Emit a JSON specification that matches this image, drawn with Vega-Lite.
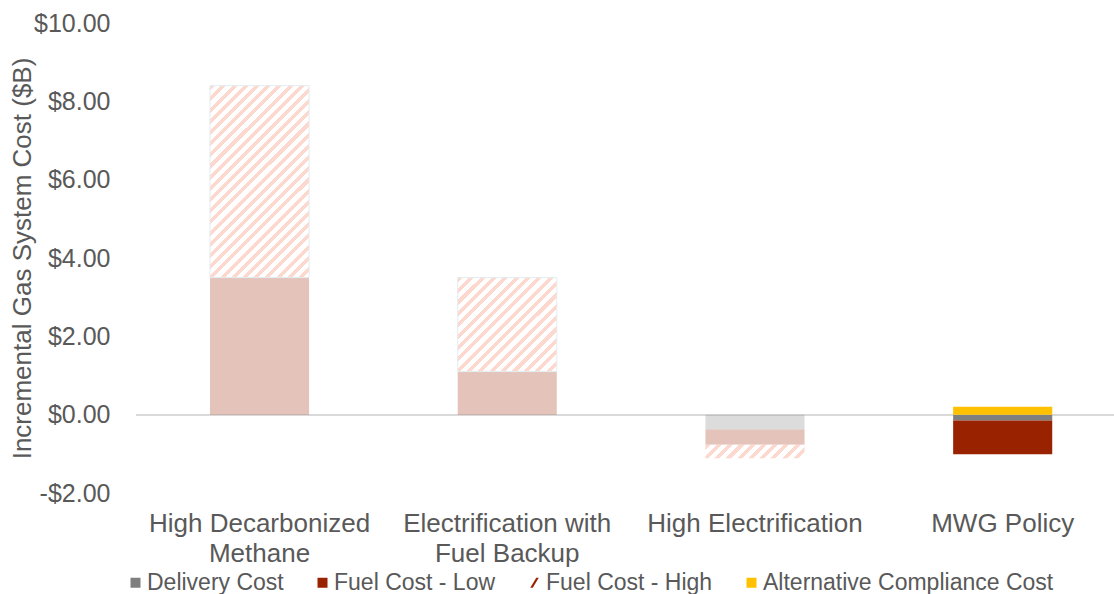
{
  "$schema": "https://vega.github.io/schema/vega-lite/v6.json",
  "width": 978,
  "height": 470,
  "autosize": {"type": "none"},
  "padding": {"left": 136, "top": 23, "right": 0, "bottom": 101},
  "background": "#ffffff",
  "config": {
    "view": {"stroke": null},
    "font": "Liberation Sans",
    "axis": {"labelFont": "Liberation Sans", "titleFont": "Liberation Sans", "labelColor": "#595959", "titleColor": "#595959"},
    "legend": {"labelFont": "Liberation Sans"}
  },
  "data": {
    "values": [
      {"scenario": "High Decarbonized Methane", "cost": "Fuel Cost - Low", "value": 3.5},
      {"scenario": "High Decarbonized Methane", "cost": "Fuel Cost - High", "value": 4.9},
      {"scenario": "Electrification with Fuel Backup", "cost": "Fuel Cost - Low", "value": 1.1},
      {"scenario": "Electrification with Fuel Backup", "cost": "Fuel Cost - High", "value": 2.4},
      {"scenario": "High Electrification", "cost": "Delivery Cost", "value": -0.38},
      {"scenario": "High Electrification", "cost": "Fuel Cost - Low", "value": -0.39},
      {"scenario": "High Electrification", "cost": "Fuel Cost - High", "value": -0.34},
      {"scenario": "MWG Policy", "cost": "Delivery Cost", "value": -0.15},
      {"scenario": "MWG Policy", "cost": "Fuel Cost - Low", "value": -0.86},
      {"scenario": "MWG Policy", "cost": "Alternative Compliance Cost", "value": 0.2}
    ]
  },
  "transform": [
    {"stack": "value", "groupby": ["scenario"], "as": ["y0", "y1"]}
  ],
  "encoding": {
    "x": {
      "field": "scenario",
      "type": "nominal",
      "sort": ["High Decarbonized Methane", "Electrification with Fuel Backup", "High Electrification", "MWG Policy"],
      "scale": {"paddingInner": 0.6, "paddingOuter": 0.274, "align": 0.545},
      "axis": {
        "title": null,
        "domain": false,
        "ticks": false,
        "labelAngle": 0,
        "labelFontSize": 26,
        "labelPadding": 17,
        "labelLineHeight": 30,
        "labelLimit": 0,
        "labelOverlap": false,
        "labelExpr": "datum.label == 'High Decarbonized Methane' ? ['High Decarbonized', 'Methane'] : datum.label == 'Electrification with Fuel Backup' ? ['Electrification with', 'Fuel Backup'] : datum.label"
      }
    }
  },
  "layer": [
    {
      "mark": {"type": "rule", "color": "#d9d9d9", "strokeWidth": 1.5},
      "encoding": {"x": null, "y": {"datum": 0, "type": "quantitative"}}
    },
    {
      "transform": [{"filter": "datum.cost !== 'Fuel Cost - High'"}],
      "mark": {"type": "bar"},
      "encoding": {
        "y": {
          "field": "y0",
          "type": "quantitative",
          "scale": {"domain": [-2, 10], "nice": false, "zero": false},
          "axis": {
            "title": "Incremental Gas System Cost ($B)",
            "titleFontSize": 26,
            "titleFontWeight": "normal",
            "titleX": -114,
            "titleY": 235,
            "titleAngle": -90,
            "titleBaseline": "middle",
            "titleAlign": "center",
            "domain": false,
            "ticks": false,
            "grid": false,
            "values": [-2, 0, 2, 4, 6, 8, 10],
            "labelFontSize": 25,
            "labelPadding": 26,
            "labelExpr": "(datum.value < 0 ? '-' : '') + '$' + format(abs(datum.value), '.2f')"
          }
        },
        "y2": {"field": "y1"},
        "fill": {
          "field": "cost",
          "type": "nominal",
          "scale": {"domain": ["Delivery Cost", "Fuel Cost - Low", "Alternative Compliance Cost"], "range": ["#7f7f7f", "#992200", "#ffc000"]},
          "legend": null
        },
        "opacity": {"condition": {"test": "datum.scenario === 'MWG Policy'", "value": 1}, "value": 0.27}
      }
    },
    {
      "transform": [{"filter": "datum.scenario === 'High Decarbonized Methane' && datum.cost === 'Fuel Cost - High'"}],
      "mark": {
        "type": "bar",
        "stroke": "#e3ecf1",
        "strokeWidth": 1,
        "fill": {
          "gradient": "linear", "x1": 0, "y1": 0, "x2": 0.6177, "y2": 1.1973,
          "stops": [
            {"offset": 0, "color": "#fdd8ce"}, {"offset": 0.0173, "color": "#fdd8ce"}, {"offset": 0.0173, "color": "#ffffff"}, {"offset": 0.0385, "color": "#ffffff"},
            {"offset": 0.0385, "color": "#fdd8ce"}, {"offset": 0.0558, "color": "#fdd8ce"}, {"offset": 0.0558, "color": "#ffffff"}, {"offset": 0.0769, "color": "#ffffff"},
            {"offset": 0.0769, "color": "#fdd8ce"}, {"offset": 0.0942, "color": "#fdd8ce"}, {"offset": 0.0942, "color": "#ffffff"}, {"offset": 0.1154, "color": "#ffffff"},
            {"offset": 0.1154, "color": "#fdd8ce"}, {"offset": 0.1327, "color": "#fdd8ce"}, {"offset": 0.1327, "color": "#ffffff"}, {"offset": 0.1538, "color": "#ffffff"},
            {"offset": 0.1538, "color": "#fdd8ce"}, {"offset": 0.1712, "color": "#fdd8ce"}, {"offset": 0.1712, "color": "#ffffff"}, {"offset": 0.1923, "color": "#ffffff"},
            {"offset": 0.1923, "color": "#fdd8ce"}, {"offset": 0.2096, "color": "#fdd8ce"}, {"offset": 0.2096, "color": "#ffffff"}, {"offset": 0.2308, "color": "#ffffff"},
            {"offset": 0.2308, "color": "#fdd8ce"}, {"offset": 0.2481, "color": "#fdd8ce"}, {"offset": 0.2481, "color": "#ffffff"}, {"offset": 0.2692, "color": "#ffffff"},
            {"offset": 0.2692, "color": "#fdd8ce"}, {"offset": 0.2865, "color": "#fdd8ce"}, {"offset": 0.2865, "color": "#ffffff"}, {"offset": 0.3077, "color": "#ffffff"},
            {"offset": 0.3077, "color": "#fdd8ce"}, {"offset": 0.325, "color": "#fdd8ce"}, {"offset": 0.325, "color": "#ffffff"}, {"offset": 0.3462, "color": "#ffffff"},
            {"offset": 0.3462, "color": "#fdd8ce"}, {"offset": 0.3635, "color": "#fdd8ce"}, {"offset": 0.3635, "color": "#ffffff"}, {"offset": 0.3846, "color": "#ffffff"},
            {"offset": 0.3846, "color": "#fdd8ce"}, {"offset": 0.4019, "color": "#fdd8ce"}, {"offset": 0.4019, "color": "#ffffff"}, {"offset": 0.4231, "color": "#ffffff"},
            {"offset": 0.4231, "color": "#fdd8ce"}, {"offset": 0.4404, "color": "#fdd8ce"}, {"offset": 0.4404, "color": "#ffffff"}, {"offset": 0.4615, "color": "#ffffff"},
            {"offset": 0.4615, "color": "#fdd8ce"}, {"offset": 0.4788, "color": "#fdd8ce"}, {"offset": 0.4788, "color": "#ffffff"}, {"offset": 0.5, "color": "#ffffff"},
            {"offset": 0.5, "color": "#fdd8ce"}, {"offset": 0.5173, "color": "#fdd8ce"}, {"offset": 0.5173, "color": "#ffffff"}, {"offset": 0.5385, "color": "#ffffff"},
            {"offset": 0.5385, "color": "#fdd8ce"}, {"offset": 0.5558, "color": "#fdd8ce"}, {"offset": 0.5558, "color": "#ffffff"}, {"offset": 0.5769, "color": "#ffffff"},
            {"offset": 0.5769, "color": "#fdd8ce"}, {"offset": 0.5942, "color": "#fdd8ce"}, {"offset": 0.5942, "color": "#ffffff"}, {"offset": 0.6154, "color": "#ffffff"},
            {"offset": 0.6154, "color": "#fdd8ce"}, {"offset": 0.6327, "color": "#fdd8ce"}, {"offset": 0.6327, "color": "#ffffff"}, {"offset": 0.6538, "color": "#ffffff"},
            {"offset": 0.6538, "color": "#fdd8ce"}, {"offset": 0.6712, "color": "#fdd8ce"}, {"offset": 0.6712, "color": "#ffffff"}, {"offset": 0.6923, "color": "#ffffff"},
            {"offset": 0.6923, "color": "#fdd8ce"}, {"offset": 0.7096, "color": "#fdd8ce"}, {"offset": 0.7096, "color": "#ffffff"}, {"offset": 0.7308, "color": "#ffffff"},
            {"offset": 0.7308, "color": "#fdd8ce"}, {"offset": 0.7481, "color": "#fdd8ce"}, {"offset": 0.7481, "color": "#ffffff"}, {"offset": 0.7692, "color": "#ffffff"},
            {"offset": 0.7692, "color": "#fdd8ce"}, {"offset": 0.7865, "color": "#fdd8ce"}, {"offset": 0.7865, "color": "#ffffff"}, {"offset": 0.8077, "color": "#ffffff"},
            {"offset": 0.8077, "color": "#fdd8ce"}, {"offset": 0.825, "color": "#fdd8ce"}, {"offset": 0.825, "color": "#ffffff"}, {"offset": 0.8462, "color": "#ffffff"},
            {"offset": 0.8462, "color": "#fdd8ce"}, {"offset": 0.8635, "color": "#fdd8ce"}, {"offset": 0.8635, "color": "#ffffff"}, {"offset": 0.8846, "color": "#ffffff"},
            {"offset": 0.8846, "color": "#fdd8ce"}, {"offset": 0.9019, "color": "#fdd8ce"}, {"offset": 0.9019, "color": "#ffffff"}, {"offset": 0.9231, "color": "#ffffff"},
            {"offset": 0.9231, "color": "#fdd8ce"}, {"offset": 0.9404, "color": "#fdd8ce"}, {"offset": 0.9404, "color": "#ffffff"}, {"offset": 0.9615, "color": "#ffffff"},
            {"offset": 0.9615, "color": "#fdd8ce"}, {"offset": 0.9788, "color": "#fdd8ce"}, {"offset": 0.9788, "color": "#ffffff"}, {"offset": 1, "color": "#ffffff"}
          ]
        }
      },
      "encoding": {"y": {"field": "y0", "type": "quantitative"}, "y2": {"field": "y1"}}
    },
    {
      "transform": [{"filter": "datum.scenario === 'Electrification with Fuel Backup' && datum.cost === 'Fuel Cost - High'"}],
      "mark": {
        "type": "bar",
        "stroke": "#e3ecf1",
        "strokeWidth": 1,
        "fill": {
          "gradient": "linear", "x1": 0, "y1": 0, "x2": 1.0252, "y2": 0.9735,
          "stops": [
            {"offset": 0, "color": "#fdd8ce"}, {"offset": 0.0265, "color": "#fdd8ce"}, {"offset": 0.0265, "color": "#ffffff"}, {"offset": 0.0588, "color": "#ffffff"},
            {"offset": 0.0588, "color": "#fdd8ce"}, {"offset": 0.0853, "color": "#fdd8ce"}, {"offset": 0.0853, "color": "#ffffff"}, {"offset": 0.1176, "color": "#ffffff"},
            {"offset": 0.1176, "color": "#fdd8ce"}, {"offset": 0.1441, "color": "#fdd8ce"}, {"offset": 0.1441, "color": "#ffffff"}, {"offset": 0.1765, "color": "#ffffff"},
            {"offset": 0.1765, "color": "#fdd8ce"}, {"offset": 0.2029, "color": "#fdd8ce"}, {"offset": 0.2029, "color": "#ffffff"}, {"offset": 0.2353, "color": "#ffffff"},
            {"offset": 0.2353, "color": "#fdd8ce"}, {"offset": 0.2618, "color": "#fdd8ce"}, {"offset": 0.2618, "color": "#ffffff"}, {"offset": 0.2941, "color": "#ffffff"},
            {"offset": 0.2941, "color": "#fdd8ce"}, {"offset": 0.3206, "color": "#fdd8ce"}, {"offset": 0.3206, "color": "#ffffff"}, {"offset": 0.3529, "color": "#ffffff"},
            {"offset": 0.3529, "color": "#fdd8ce"}, {"offset": 0.3794, "color": "#fdd8ce"}, {"offset": 0.3794, "color": "#ffffff"}, {"offset": 0.4118, "color": "#ffffff"},
            {"offset": 0.4118, "color": "#fdd8ce"}, {"offset": 0.4382, "color": "#fdd8ce"}, {"offset": 0.4382, "color": "#ffffff"}, {"offset": 0.4706, "color": "#ffffff"},
            {"offset": 0.4706, "color": "#fdd8ce"}, {"offset": 0.4971, "color": "#fdd8ce"}, {"offset": 0.4971, "color": "#ffffff"}, {"offset": 0.5294, "color": "#ffffff"},
            {"offset": 0.5294, "color": "#fdd8ce"}, {"offset": 0.5559, "color": "#fdd8ce"}, {"offset": 0.5559, "color": "#ffffff"}, {"offset": 0.5882, "color": "#ffffff"},
            {"offset": 0.5882, "color": "#fdd8ce"}, {"offset": 0.6147, "color": "#fdd8ce"}, {"offset": 0.6147, "color": "#ffffff"}, {"offset": 0.6471, "color": "#ffffff"},
            {"offset": 0.6471, "color": "#fdd8ce"}, {"offset": 0.6735, "color": "#fdd8ce"}, {"offset": 0.6735, "color": "#ffffff"}, {"offset": 0.7059, "color": "#ffffff"},
            {"offset": 0.7059, "color": "#fdd8ce"}, {"offset": 0.7324, "color": "#fdd8ce"}, {"offset": 0.7324, "color": "#ffffff"}, {"offset": 0.7647, "color": "#ffffff"},
            {"offset": 0.7647, "color": "#fdd8ce"}, {"offset": 0.7912, "color": "#fdd8ce"}, {"offset": 0.7912, "color": "#ffffff"}, {"offset": 0.8235, "color": "#ffffff"},
            {"offset": 0.8235, "color": "#fdd8ce"}, {"offset": 0.85, "color": "#fdd8ce"}, {"offset": 0.85, "color": "#ffffff"}, {"offset": 0.8824, "color": "#ffffff"},
            {"offset": 0.8824, "color": "#fdd8ce"}, {"offset": 0.9088, "color": "#fdd8ce"}, {"offset": 0.9088, "color": "#ffffff"}, {"offset": 0.9412, "color": "#ffffff"},
            {"offset": 0.9412, "color": "#fdd8ce"}, {"offset": 0.9676, "color": "#fdd8ce"}, {"offset": 0.9676, "color": "#ffffff"}, {"offset": 1, "color": "#ffffff"}
          ]
        }
      },
      "encoding": {"y": {"field": "y0", "type": "quantitative"}, "y2": {"field": "y1"}}
    },
    {
      "transform": [{"filter": "datum.scenario === 'High Electrification' && datum.cost === 'Fuel Cost - High'"}],
      "mark": {
        "type": "bar",
        "fill": {
          "gradient": "linear", "x1": 0, "y1": 0, "x2": 1.1142, "y2": 0.1497,
          "stops": [
            {"offset": 0, "color": "#fdd8ce"}, {"offset": 0.045, "color": "#fdd8ce"}, {"offset": 0.045, "color": "#ffffff"}, {"offset": 0.1, "color": "#ffffff"},
            {"offset": 0.1, "color": "#fdd8ce"}, {"offset": 0.145, "color": "#fdd8ce"}, {"offset": 0.145, "color": "#ffffff"}, {"offset": 0.2, "color": "#ffffff"},
            {"offset": 0.2, "color": "#fdd8ce"}, {"offset": 0.245, "color": "#fdd8ce"}, {"offset": 0.245, "color": "#ffffff"}, {"offset": 0.3, "color": "#ffffff"},
            {"offset": 0.3, "color": "#fdd8ce"}, {"offset": 0.345, "color": "#fdd8ce"}, {"offset": 0.345, "color": "#ffffff"}, {"offset": 0.4, "color": "#ffffff"},
            {"offset": 0.4, "color": "#fdd8ce"}, {"offset": 0.445, "color": "#fdd8ce"}, {"offset": 0.445, "color": "#ffffff"}, {"offset": 0.5, "color": "#ffffff"},
            {"offset": 0.5, "color": "#fdd8ce"}, {"offset": 0.545, "color": "#fdd8ce"}, {"offset": 0.545, "color": "#ffffff"}, {"offset": 0.6, "color": "#ffffff"},
            {"offset": 0.6, "color": "#fdd8ce"}, {"offset": 0.645, "color": "#fdd8ce"}, {"offset": 0.645, "color": "#ffffff"}, {"offset": 0.7, "color": "#ffffff"},
            {"offset": 0.7, "color": "#fdd8ce"}, {"offset": 0.745, "color": "#fdd8ce"}, {"offset": 0.745, "color": "#ffffff"}, {"offset": 0.8, "color": "#ffffff"},
            {"offset": 0.8, "color": "#fdd8ce"}, {"offset": 0.845, "color": "#fdd8ce"}, {"offset": 0.845, "color": "#ffffff"}, {"offset": 0.9, "color": "#ffffff"},
            {"offset": 0.9, "color": "#fdd8ce"}, {"offset": 0.945, "color": "#fdd8ce"}, {"offset": 0.945, "color": "#ffffff"}, {"offset": 1, "color": "#ffffff"}
          ]
        }
      },
      "encoding": {"y": {"field": "y0", "type": "quantitative"}, "y2": {"field": "y1"}}
    },
    {
      "data": {"values": [
        {"cost": "Delivery Cost"},
        {"cost": "Fuel Cost - Low"},
        {"cost": "Fuel Cost - High"},
        {"cost": "Alternative Compliance Cost"}
      ]},
      "transform": [{"filter": "false"}],
      "mark": {"type": "point", "filled": true},
      "encoding": {
        "x": null,
        "color": {
          "field": "cost",
          "type": "nominal",
          "scale": {"domain": ["Delivery Cost", "Fuel Cost - Low", "Fuel Cost - High", "Alternative Compliance Cost"], "range": ["#7f7f7f", "#992200", "#992200", "#ffc000"]},
          "legend": {"title": null, "orient": "none", "direction": "horizontal", "columns": 4, "legendX": -12, "legendY": 548, "labelFontSize": 23, "labelLimit": 0, "labelColor": "#595959", "symbolSize": 100, "columnPadding": 27, "labelOffset": 0, "symbolOpacity": 1}
        },
        "shape": {
          "field": "cost",
          "type": "nominal",
          "scale": {"domain": ["Delivery Cost", "Fuel Cost - Low", "Fuel Cost - High", "Alternative Compliance Cost"], "range": ["square", "square", "M0.35,-1L0.85,-1L-0.35,1L-0.85,1Z", "square"]},
          "legend": {"title": null, "orient": "none", "direction": "horizontal", "columns": 4, "legendX": -12, "legendY": 548, "labelFontSize": 23, "labelLimit": 0, "labelColor": "#595959", "symbolSize": 100, "columnPadding": 27, "labelOffset": 0, "symbolOpacity": 1}
        }
      }
    }
  ]
}
